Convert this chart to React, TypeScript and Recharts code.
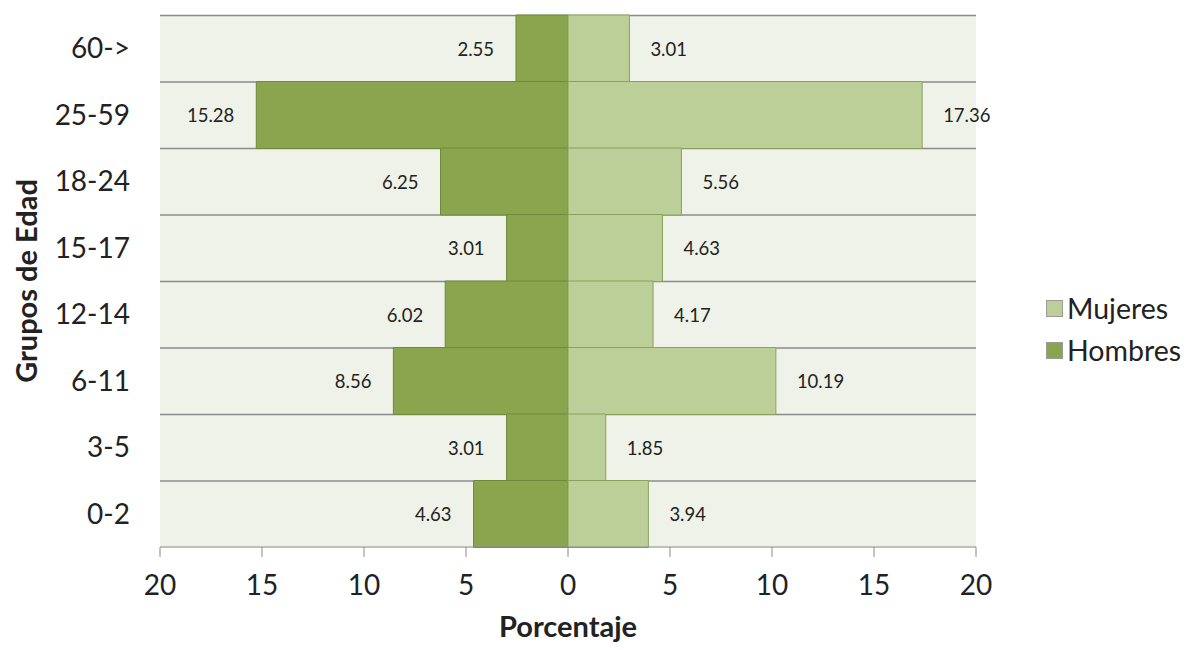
import { Bar, BarChart, LabelList, Legend, XAxis, YAxis } from 'recharts'

const ageGroups = ['60->', '25-59', '18-24', '15-17', '12-14', '6-11', '3-5', '0-2']
const hombres = [2.55, 15.28, 6.25, 3.01, 6.02, 8.56, 3.01, 4.63]
const mujeres = [3.01, 17.36, 5.56, 4.63, 4.17, 10.19, 1.85, 3.94]
const xTicks = [-20, -15, -10, -5, 0, 5, 10, 15, 20]

const DARK = '#8aa54e'
const DARK_EDGE = '#6f8a3a'
const LIGHT = '#bccf98'
const LIGHT_EDGE = '#8aa25a'
const ROW_BG = '#eef2e8'
const LINE = '#8c8c8c'
const TEXT = '#222'
const FONT = 'Lato, "Open Sans", sans-serif'

const legendItems = [
  { name: 'Mujeres', color: LIGHT },
  { name: 'Hombres', color: DARK },
]

// men go left of zero, women right
const data = ageGroups.map((grupo, i) => ({
  grupo,
  hombres: -hombres[i],
  mujeres: mujeres[i],
}))

function RowBackground(props: any) {
  const { x, y, width, height } = props
  return (
    <g>
      <rect x={x} y={y} width={width} height={height} fill={ROW_BG} />
      <line x1={x} x2={x + width} y1={y + 0.5} y2={y + 0.5} stroke={LINE} strokeWidth={1.5} />
    </g>
  )
}

function MenLabel(props: any) {
  const { x, y, width, height, value } = props
  const left = Math.min(x, x + width)
  return (
    <text
      x={left - 22}
      y={y + height / 2}
      textAnchor="end"
      dominantBaseline="central"
      fontSize={18.5}
      fill={TEXT}
      fontFamily={FONT}
    >
      {Math.abs(Number(value)).toFixed(2)}
    </text>
  )
}

function WomenLabel(props: any) {
  const { x, y, width, height, value } = props
  const right = Math.max(x, x + width)
  return (
    <text
      x={right + 21}
      y={y + height / 2}
      textAnchor="start"
      dominantBaseline="central"
      fontSize={18.5}
      fill={TEXT}
      fontFamily={FONT}
    >
      {Number(value).toFixed(2)}
    </text>
  )
}

function YTitle(props: any) {
  const { viewBox } = props
  const cy = viewBox.y + viewBox.height / 2
  return (
    <text
      x={17}
      y={cy}
      transform={`rotate(-90, 17, ${cy})`}
      textAnchor="middle"
      dominantBaseline="central"
      fontSize={29}
      fontWeight="bold"
      fill={TEXT}
      fontFamily={FONT}
    >
      Grupos de Edad
    </text>
  )
}

function LegendBox() {
  return (
    <div style={{ paddingTop: 8, paddingLeft: 70, fontFamily: FONT }}>
      {legendItems.map((item) => (
        <div
          key={item.name}
          style={{ display: 'flex', alignItems: 'center', height: 42, fontSize: 28.5, color: TEXT }}
        >
          <span
            style={{
              display: 'inline-block',
              width: 15,
              height: 15,
              background: item.color,
              border: '1px solid #9a9a9a',
              marginRight: 4,
            }}
          />
          {item.name}
        </div>
      ))}
    </div>
  )
}

export default function App() {
  return (
    <BarChart
      width={1178}
      height={634}
      data={data}
      layout="vertical"
      stackOffset="sign"
      barCategoryGap={0}
      margin={{ top: 7, right: 0, left: 0, bottom: 0 }}
      style={{ fontFamily: FONT }}
    >
      <XAxis
        type="number"
        domain={[-20, 20]}
        ticks={xTicks}
        tickFormatter={(v) => String(Math.abs(v))}
        height={95}
        tickSize={10}
        tickMargin={18}
        stroke={LINE}
        tick={{ fontSize: 28, fill: TEXT }}
        label={{
          value: 'Porcentaje',
          position: 'insideBottom',
          offset: 5,
          style: { fontSize: 29, fontWeight: 'bold', fill: TEXT },
        }}
      />
      <YAxis
        type="category"
        dataKey="grupo"
        width={152}
        tickLine={false}
        axisLine={false}
        tickSize={0}
        tickMargin={30}
        tick={{ fontSize: 28, fill: TEXT }}
        label={<YTitle />}
      />
      <Legend
        layout="vertical"
        align="right"
        verticalAlign="middle"
        width={210}
        content={() => <LegendBox />}
      />
      <Bar
        dataKey="hombres"
        name="Hombres"
        stackId="pyr"
        fill={DARK}
        stroke={DARK_EDGE}
        strokeWidth={1}
        background={(p: any) => <RowBackground {...p} />}
        isAnimationActive={false}
      >
        <LabelList dataKey="hombres" content={<MenLabel />} />
      </Bar>
      <Bar
        dataKey="mujeres"
        name="Mujeres"
        stackId="pyr"
        fill={LIGHT}
        stroke={LIGHT_EDGE}
        strokeWidth={1}
        isAnimationActive={false}
      >
        <LabelList dataKey="mujeres" content={<WomenLabel />} />
      </Bar>
    </BarChart>
  )
}
